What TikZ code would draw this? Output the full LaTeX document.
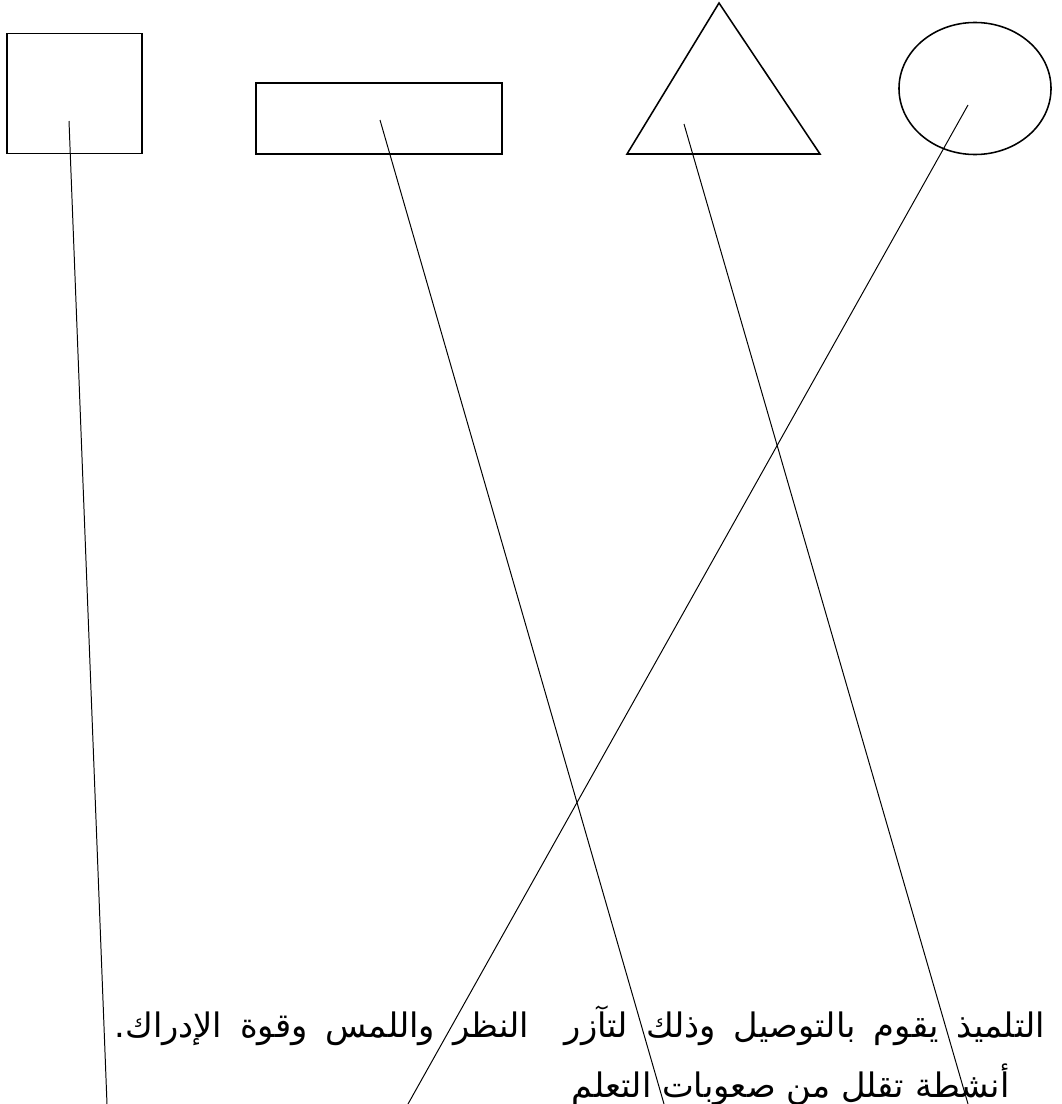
\documentclass[tikz,border=0pt]{standalone}
\usepackage{fontspec}
\usetikzlibrary{positioning,shapes.geometric}
\newfontfamily\arabicfont[Script=Arabic]{DejaVu Sans}
\TeXXeTstate=1

\begin{document}
\begin{tikzpicture}[x=0.025cm,y=-0.025cm,
  shp/.style={draw,line width=1.1pt,inner sep=0pt},
  lnk/.style={line width=0.7pt},
  txt/.style={font=\arabicfont\fontsize{24}{28}\selectfont,inner sep=0pt,anchor=base east}
]
\useasboundingbox (0,0) rectangle (1062,1104);
\clip (0,0) rectangle (1062,1104);
\fill[white] (0,0) rectangle (1062,1104);

% shapes on top
\node[shp,rectangle,minimum width=3.375cm,minimum height=3cm] (sq) at (74.5,93.5) {};
\node[shp,rectangle,minimum width=6.15cm,minimum height=1.775cm] (rc) at (379,118.5) {};
\coordinate (tra) at (719,3);
\coordinate (trl) at (627,154);
\coordinate (trr) at (820,154);
\draw[line width=1.1pt,line join=miter] (tra) -- (trl) -- (trr) -- cycle;
\node[shp,ellipse,minimum width=3.8cm,minimum height=3.3cm] (ci) at (975,88.5) {};

% start and end of the links
\coordinate (sqin) at (69,121);
\coordinate (rcin) at (380,120);
\coordinate (trin) at (684,124);
\coordinate (ciin) at (968,105);
\coordinate (sqend) at (107,1104);
\coordinate (rcend) at (664,1104);
\coordinate (trend) at (968,1104);
\coordinate (ciend) at (408,1104);

\draw[lnk] (sqin) -- (sqend);
\draw[lnk] (rcin) -- (rcend);
\draw[lnk] (trin) -- (trend);
\draw[lnk] (ciin) -- (ciend);

% text, first line set full width
\node[txt] (l1) at (1045,1037) {\makebox[23.25cm][s]{\beginR التلميذ يقوم بالتوصيل وذلك لتآزر\ \ النظر واللمس وقوة الإدراك.\endR}};
\node[txt] (l2) at (1010,1097) {\beginR أنشطة تقلل من صعوبات التعلم\endR};
\end{tikzpicture}
\end{document}
